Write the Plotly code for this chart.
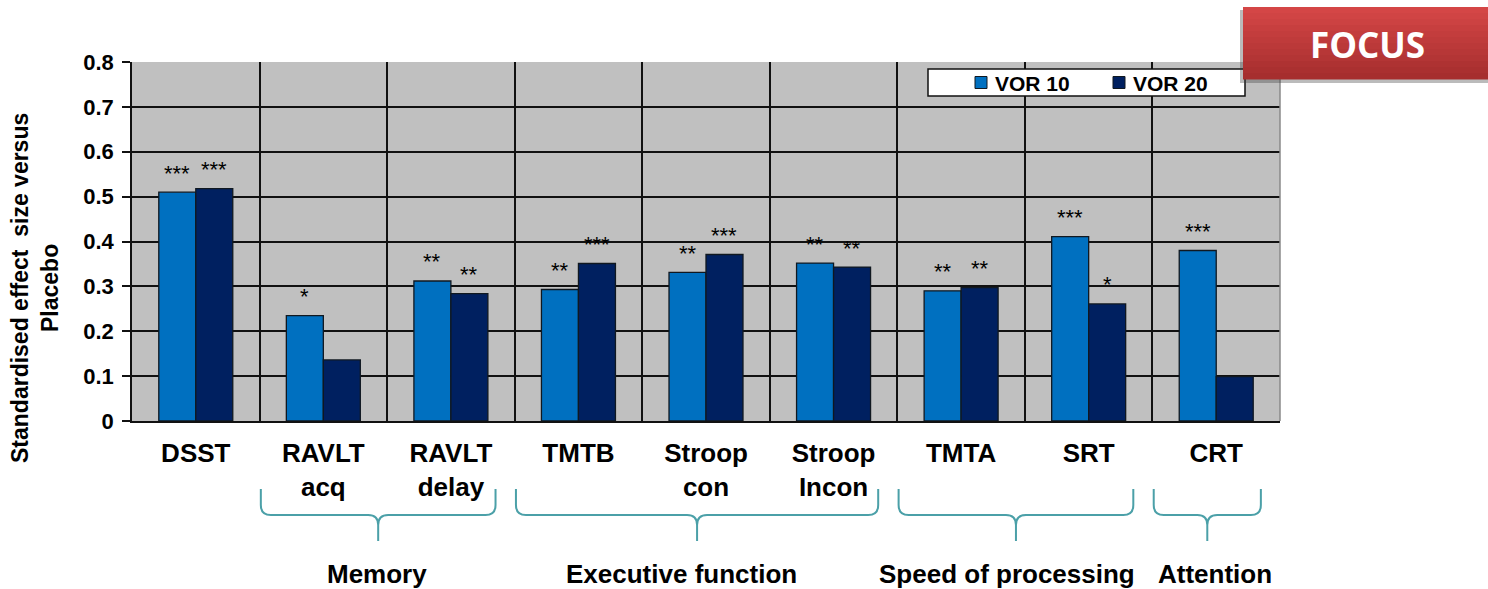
import plotly.graph_objects as go

# Cognitive test categories and standardised effect sizes versus placebo
categories = ["DSST", "RAVLT<br>acq", "RAVLT<br>delay", "TMTB", "Stroop<br>con",
              "Stroop<br>Incon", "TMTA", "SRT", "CRT"]
vor10 = [0.51, 0.235, 0.312, 0.293, 0.331, 0.352, 0.29, 0.411, 0.38]
vor20 = [0.518, 0.136, 0.284, 0.351, 0.371, 0.343, 0.297, 0.261, 0.099]
sig10 = ["***", "*", "**", "**", "**", "**", "**", "***", "***"]
sig20 = ["***", "", "**", "***", "***", "**", "**", "*", ""]
series_names = ["VOR 10", "VOR 20"]
series_colors = ["#0070C0", "#002060"]

# Domain groupings: (label, first category index, last category index)
groups = [("Memory", 1, 2), ("Executive function", 3, 5),
          ("Speed of processing", 6, 7), ("Attention", 8, 8)]
# horizontal nudge (px) of each domain label relative to its brace
group_label_dx = [-1, -16, -9, 8]

FONT = "Liberation Sans, Arial, sans-serif"
W, H = 1488, 589
L, R, T, B = 132, 1280, 62, 421           # plot area in pixels
PW, PH = R - L, B - T
NCAT = len(categories)
CAT_W = PW / NCAT
BARGAP = 0.42
BAR_W = CAT_W * (1 - BARGAP) / 2
EDGE = "#101820"


def px(x):
    return (x - L) / PW


def py(y):
    return (B - y) / PH


fig = go.Figure()
for name, vals, col in zip(series_names, (vor10, vor20), series_colors):
    fig.add_trace(go.Bar(name=name, x=categories, y=vals, showlegend=False,
                         marker=dict(color=col, line=dict(color=EDGE, width=1.3))))

annotations = []
shapes = []

# significance stars above each bar
for i, cat in enumerate(categories):
    for vals, sig, sgn in ((vor10, sig10, -1), (vor20, sig20, 1)):
        if sig[i]:
            annotations.append(dict(
                x=cat, y=vals[i], xref="x", yref="y", text=sig[i], showarrow=False,
                xanchor="center", yanchor="middle", xshift=sgn * BAR_W / 2, yshift=19,
                font=dict(family=FONT, size=22, color="black")))

# y-axis title
annotations.append(dict(
    x=px(35), y=py(288), xref="paper", yref="paper", showarrow=False, textangle=-90,
    text="<b>Standardised effect  size versus<br>Placebo</b>", xanchor="center", yanchor="middle",
    font=dict(family=FONT, size=23, color="black")))

# grey right-hand border of the plot area
shapes.append(dict(type="line", xref="paper", yref="paper", x0=1, x1=1, y0=0, y1=1,
                   layer="above", line=dict(color="#8A8A8A", width=1.5)))

# curly braces under the domain groups and their labels
BR_TOP, BR_BAR, BR_TIP, RAD = 489, 515, 541, 10
for (label, a, b), dx in zip(groups, group_label_dx):
    left = L + (a + 0.5) * CAT_W - 0.49 * CAT_W
    right = L + (b + 0.5) * CAT_W + 0.35 * CAT_W
    mid = (left + right) / 2
    pts = (f"M{px(left)},{py(BR_TOP)} L{px(left)},{py(BR_BAR - RAD)} "
           f"Q{px(left)},{py(BR_BAR)} {px(left + RAD)},{py(BR_BAR)} "
           f"L{px(mid - RAD)},{py(BR_BAR)} Q{px(mid)},{py(BR_BAR)} {px(mid)},{py(BR_BAR + RAD)} "
           f"L{px(mid)},{py(BR_TIP)} M{px(mid)},{py(BR_BAR + RAD)} "
           f"Q{px(mid)},{py(BR_BAR)} {px(mid + RAD)},{py(BR_BAR)} "
           f"L{px(right - RAD)},{py(BR_BAR)} Q{px(right)},{py(BR_BAR)} {px(right)},{py(BR_BAR - RAD)} "
           f"L{px(right)},{py(BR_TOP)}")
    shapes.append(dict(type="path", xref="paper", yref="paper", path=pts,
                       line=dict(color="#4BA0A8", width=2)))
    annotations.append(dict(
        x=px(mid + dx), y=py(574), xref="paper", yref="paper", showarrow=False,
        text=f"<b>{label}</b>", xanchor="center", yanchor="middle",
        font=dict(family=FONT, size=26, color="black")))

# legend box with one swatch per series
LG_X0, LG_X1, LG_Y0, LG_Y1 = 928, 1245, 69, 96
shapes.append(dict(type="rect", xref="paper", yref="paper", layer="above",
                   x0=px(LG_X0), x1=px(LG_X1), y0=py(LG_Y1), y1=py(LG_Y0),
                   fillcolor="white", line=dict(color="#111111", width=1.5)))
for k, (name, col) in enumerate(zip(series_names, series_colors)):
    sx = 975 + k * 138
    cy = (LG_Y0 + LG_Y1) / 2
    shapes.append(dict(type="rect", xref="paper", yref="paper", layer="above",
                       x0=px(sx), x1=px(sx + 12), y0=py(cy + 6), y1=py(cy - 6),
                       fillcolor=col, line=dict(color=EDGE, width=1)))
    annotations.append(dict(
        x=px(sx + 18), y=py(cy + 1), xref="paper", yref="paper", showarrow=False,
        text=f"<b>{name}</b>", xanchor="left", yanchor="middle",
        font=dict(family=FONT, size=21, color="black")))

# FOCUS banner in the top-right corner
shapes.append(dict(type="rect", xref="paper", yref="paper", layer="above",
                   x0=px(1240), x1=px(1490), y0=py(83), y1=py(10),
                   fillcolor="rgba(60,60,60,0.35)", line=dict(width=0)))
bands = 12
top_c, bot_c = (212, 70, 70), (166, 46, 46)
for k in range(bands):
    f = k / (bands - 1)
    c = tuple(round(top_c[j] + (bot_c[j] - top_c[j]) * f) for j in range(3))
    y0 = 7 + (79 - 7) * k / bands
    y1 = 7 + (79 - 7) * (k + 1) / bands
    shapes.append(dict(type="rect", xref="paper", yref="paper", layer="above",
                       x0=px(1243), x1=px(1490), y0=py(y1 + 0.5), y1=py(y0),
                       fillcolor=f"rgb{c}", line=dict(width=0)))
annotations.append(dict(
    x=px(1367), y=py(44), xref="paper", yref="paper", showarrow=False,
    text="<b>FOCUS</b>", xanchor="center", yanchor="middle",
    font=dict(family="Open Sans, sans-serif", size=35, color="white")))

fig.update_layout(
    width=W, height=H,
    margin=dict(l=L, r=W - R, t=T, b=H - B, pad=0),
    paper_bgcolor="white", plot_bgcolor="#C0C0C0",
    barmode="group", bargap=BARGAP, bargroupgap=0,
    font=dict(family=FONT, color="black"),
    showlegend=False,
    xaxis=dict(type="category", tickson="boundaries", showgrid=True, gridcolor="#111111",
               gridwidth=1.5, ticks="", showline=True, linecolor="#111111", linewidth=1.5,
               tickfont=dict(family=FONT, size=26, color="black", weight="bold"),
               ticklabelstandoff=8, fixedrange=True),
    yaxis=dict(range=[0, 0.8], dtick=0.1, showgrid=True, gridcolor="#111111", gridwidth=1.5,
               zeroline=False, showline=True, linecolor="#111111", linewidth=1.5,
               ticks="outside", ticklen=8, tickcolor="#111111", tickwidth=1.5,
               tickfont=dict(family=FONT, size=22, color="black", weight="bold"),
               ticklabelstandoff=4, fixedrange=True),
    shapes=shapes, annotations=annotations,
)

fig.write_html("out.html", config={"displayModeBar": False})
